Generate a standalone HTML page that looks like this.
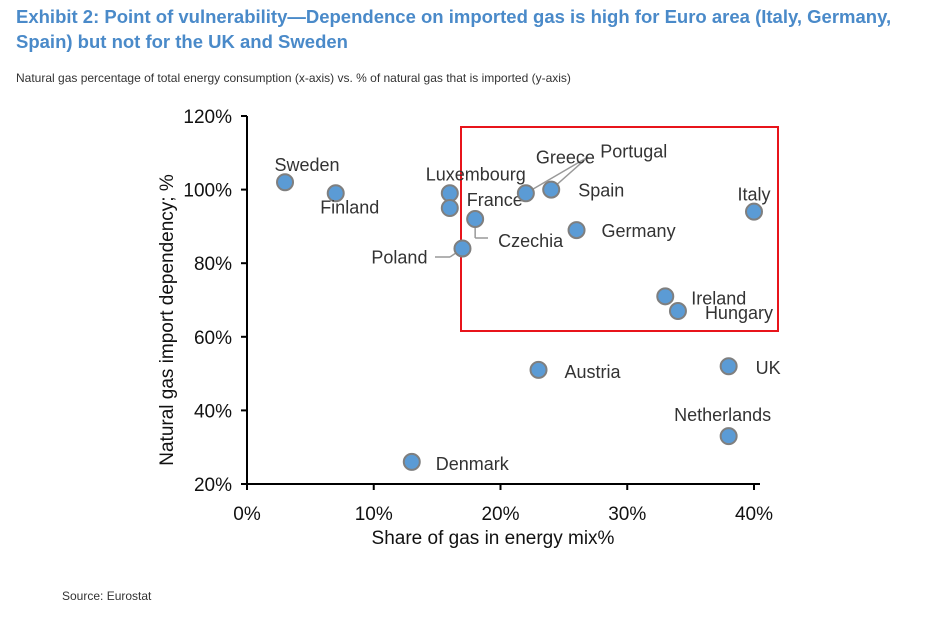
<!DOCTYPE html>
<html><head><meta charset="utf-8"><style>
body{margin:0;background:#fff;width:940px;height:620px;overflow:hidden;font-family:"Liberation Sans",sans-serif;}
#title{position:absolute;left:16px;top:4px;font-size:18.5px;font-weight:bold;color:#4a8ac9;line-height:25px;width:895px;}
#sub{position:absolute;left:16px;top:71px;font-size:12px;color:#333;}
#src{position:absolute;left:62px;top:589px;font-size:12px;color:#333;}
svg{position:absolute;left:0;top:0;}
</style></head><body>
<div id="title">Exhibit 2: Point of vulnerability—Dependence on imported gas is high for Euro area (Italy, Germany, Spain) but not for the UK and Sweden</div>
<div id="sub">Natural gas percentage of total energy consumption (x-axis) vs. % of natural gas that is imported (y-axis)</div>
<div id="src">Source: Eurostat</div>
<svg id="chart" width="940" height="620"></svg>
<script>
const countries=["Sweden","Finland","Luxembourg","France","Czechia","Poland","Greece","Portugal","Spain","Germany","Italy","Ireland","Hungary","UK","Austria","Netherlands","Denmark"];
const gasShare=[3,7,16,16,18,17,22,24,24,26,40,33,34,38,23,38,13];
const importDep=[102,99,99,95,92,84,99,100,100,89,94,71,67,52,51,33,26];
const xTicks=[0,10,20,30,40];
const yTicks=[20,40,60,80,100,120];
// label offsets [dx,dy,anchor]
const lab={Sweden:[22,-11,"middle"],Finland:[14,20,"middle"],Luxembourg:[26,-13,"middle"],France:[17,-2,"start"],Czechia:[23,28,"start"],Poland:[-35,15,"end"],Greece:[10,-30,"start"],Portugal:[49,-32,"start"],Spain:[27,7,"start"],Germany:[25,7,"start"],Italy:[0,-11,"middle"],Ireland:[26,8,"start"],Hungary:[27,8,"start"],UK:[27,8,"start"],Austria:[26,8,"start"],Netherlands:[-6,-15,"middle"],Denmark:[24,8,"start"]};
const X=v=>247+v*12.675, Y=v=>484-(v-20)*3.68;
const s=document.getElementById('chart'),NS="http://www.w3.org/2000/svg";
function mk(t,a,p){const e=document.createElementNS(NS,t);for(const k in a)e.setAttribute(k,a[k]);(p||s).appendChild(e);return e;}
let e;
e=mk('rect',{x:461,y:127,width:317,height:204,fill:'none',stroke:'#e8141b','stroke-width':2});


e=mk('line',{x1:247,y1:116,x2:247,y2:485,stroke:'#000','stroke-width':2});


e=mk('line',{x1:246,y1:484,x2:760,y2:484,stroke:'#000','stroke-width':2});


yTicks.forEach(v=>{mk('line',{x1:241,y1:Y(v),x2:247,y2:Y(v),stroke:'#000','stroke-width':2});
 e=mk('text',{x:232,y:Y(v)+7,'text-anchor':'end','font-size':19,fill:'#111'});e.textContent=v+'%';
 
 });
xTicks.forEach(v=>{mk('line',{x1:X(v),y1:484,x2:X(v),y2:490,stroke:'#000','stroke-width':2});
 e=mk('text',{x:X(v),y:520,'text-anchor':'middle','font-size':19,fill:'#111'});e.textContent=v+'%';
 
 });
e=mk('text',{x:493,y:544,'text-anchor':'middle','font-size':19,fill:'#111'});e.textContent='Share of gas in energy mix%';


e=mk('text',{x:0,y:0,'text-anchor':'middle','font-size':19,fill:'#111',transform:'translate(173,320) rotate(-90)'});e.textContent='Natural gas import dependency; %';


// leader lines
const L=[[X(22),Y(99),588,157],[X(24),Y(100),588,157],[X(18),Y(92),X(18),238],[X(18),238,488,238],[X(17),Y(84),450,257],[450,257,435,257]];
L.forEach(l=>{e=mk('line',{x1:l[0],y1:l[1],x2:l[2],y2:l[3],stroke:'#999','stroke-width':1.5});
 
 });
countries.forEach((c,i)=>{const cx=X(gasShare[i]),cy=Y(importDep[i]);
 if(c!=="Portugal"){e=mk('circle',{cx:cx,cy:cy,r:8,fill:'#5b9bd5',stroke:'#7f7f7f','stroke-width':2});
 
 }
 const o=lab[c];e=mk('text',{x:cx+o[0],y:cy+o[1],'text-anchor':o[2],'font-size':18,fill:'#333'});e.textContent=c;
 
 });
</script>
</body></html>
